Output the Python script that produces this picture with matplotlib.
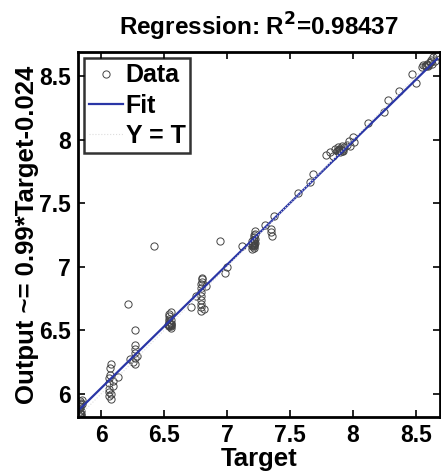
import numpy as np
from matplotlib import pyplot as plt

plt.rcParams['font.family'] = ['Liberation Sans', 'DejaVu Sans']
plt.rcParams['font.weight'] = 'bold'

# targets / outputs
target = [5.83, 5.83, 5.83, 5.83, 5.83, 5.83, 5.83, 5.83, 5.83, 5.84, 5.84, 5.85, 5.85,
          5.83, 5.83, 5.83, 5.84, 5.84,
          6.06, 6.06, 6.06, 6.06, 6.06, 6.07, 6.07, 6.08, 6.08, 6.08, 6.09, 6.09, 6.13,
          6.21, 6.23, 6.25, 6.27, 6.27, 6.27, 6.27, 6.27, 6.27, 6.28,
          6.42,
          6.54, 6.54, 6.54, 6.54, 6.54, 6.54, 6.54, 6.54, 6.55, 6.55, 6.55, 6.55, 6.55,
          6.54, 6.54, 6.55, 6.55, 6.53,
          6.71, 6.75, 6.79, 6.79, 6.79, 6.79, 6.79, 6.79, 6.79, 6.79, 6.80, 6.80, 6.80,
          6.82, 6.83,
          6.94, 6.98, 7.00, 7.12,
          7.20, 7.20, 7.20, 7.20, 7.21, 7.21, 7.21, 7.21, 7.21, 7.21, 7.22, 7.22, 7.22,
          7.20, 7.21, 7.21, 7.22, 7.21,
          7.30, 7.35, 7.35, 7.36, 7.37,
          7.56, 7.66, 7.68,
          7.79, 7.82, 7.84, 7.86, 7.87, 7.88, 7.89, 7.90, 7.90, 7.91, 7.92, 7.93, 7.95,
          7.88, 7.89, 7.90, 7.91, 7.92,
          7.97, 7.98, 8.00, 8.01,
          8.12, 8.25, 8.28, 8.37, 8.47, 8.50,
          8.55, 8.56, 8.58, 8.59, 8.60, 8.61, 8.62, 8.63, 8.64, 8.65, 8.66, 8.67,
          8.57, 8.58, 8.60, 8.62]
output = [5.82, 5.83, 5.84, 5.85, 5.86, 5.88, 5.90, 5.92, 5.94, 5.84, 5.93, 5.95, 5.92,
          5.83, 5.84, 5.85, 5.83, 5.86,
          5.98, 6.01, 6.04, 6.08, 6.12, 6.15, 6.20, 5.96, 6.00, 6.23, 6.06, 6.10, 6.13,
          6.71, 6.27, 6.25, 6.50, 6.23, 6.28, 6.32, 6.35, 6.38, 6.30,
          7.16,
          6.53, 6.54, 6.55, 6.56, 6.57, 6.59, 6.61, 6.63, 6.52, 6.54, 6.56, 6.58, 6.64,
          6.53, 6.54, 6.53, 6.55, 6.54,
          6.68, 6.77, 6.65, 6.68, 6.71, 6.74, 6.77, 6.80, 6.83, 6.86, 6.88, 6.90, 6.91,
          6.67, 6.85,
          7.20, 6.95, 7.00, 7.16,
          7.14, 7.16, 7.18, 7.20, 7.15, 7.17, 7.19, 7.21, 7.23, 7.25, 7.22, 7.26, 7.28,
          7.17, 7.16, 7.18, 7.19, 7.20,
          7.33, 7.27, 7.30, 7.24, 7.40,
          7.58, 7.67, 7.73,
          7.88, 7.90, 7.87, 7.93, 7.91, 7.94, 7.92, 7.90, 7.93, 7.95, 7.91, 7.94, 7.96,
          7.92, 7.93, 7.92, 7.91, 7.93,
          7.99, 7.95, 8.02, 7.98,
          8.13, 8.22, 8.31, 8.38, 8.52, 8.45,
          8.57, 8.59, 8.58, 8.60, 8.58, 8.61, 8.63, 8.60, 8.65, 8.62, 8.68, 8.66,
          8.58, 8.59, 8.59, 8.61]

# fit as it is drawn in the figure (the label gives the rounded equation)
fit_slope, fit_offset = 0.971, 0.219
fit_label = 'Output ~= 0.99*Target-0.024'
lims = (5.815, 8.69)

fig = plt.figure(figsize=(4.41, 4.74), dpi=100)
ax = fig.add_axes([0.177, 0.120, 0.82, 0.770])

ax.plot(target, output, 'o', mfc='none', mec='#444444', ms=5.2, mew=0.7, label='Data')
fx = np.array([min(target), max(target)])
ax.plot(fx, fit_slope*fx + fit_offset, color='#2a36a6', lw=1.6, label='Fit')
ax.plot(lims, lims, ':', color='#dddddd', lw=0.8, label='Y = T')

ax.set_xlim(lims)
ax.set_ylim(lims)
ticks = [6, 6.5, 7, 7.5, 8, 8.5]
tick_labels = ['6', '6.5', '7', '7.5', '8', '8.5']
ax.set_xticks(ticks)
ax.set_yticks(ticks)
ax.set_xticklabels(tick_labels)
ax.set_yticklabels(tick_labels)
ax.tick_params(direction='in', top=True, right=True, labelsize=16.5, width=1.2, length=5, pad=5)
for s in ax.spines.values():
    s.set_linewidth(2)

ax.set_title('Regression: R$^\\mathbf{2}$=0.98437', fontsize=17.5, fontweight='bold', pad=12)
ax.set_xlabel('Target', fontsize=18.5, fontweight='bold', labelpad=0)
ax.set_ylabel(fit_label, fontsize=18.5, fontweight='bold', labelpad=0)

leg = ax.legend(loc='upper left', fontsize=18, frameon=True, fancybox=False,
                borderpad=0.2, handlelength=1.35, handletextpad=0.1, labelspacing=0.25,
                borderaxespad=0.25, markerscale=1.0)
leg.get_frame().set_edgecolor('black')
leg.get_frame().set_linewidth(1.8)

fig.savefig('out.png', dpi=100)
